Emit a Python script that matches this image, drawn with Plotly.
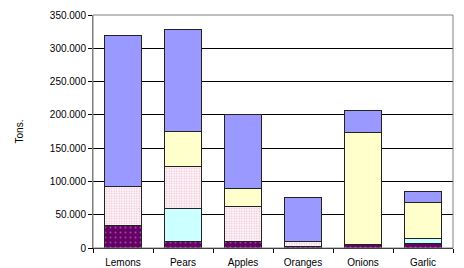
import plotly.graph_objects as go

categories = ["Lemons", "Pears", "Apples", "Oranges", "Onions", "Garlic"]
s_purple = [34000, 10000, 10000, 3000, 5000, 7000]
s_cyan = [0, 49000, 0, 0, 0, 7000]
s_pink = [59000, 64000, 53000, 7000, 0, 0]
s_yellow = [0, 52000, 26000, 0, 168000, 55000]
s_blue = [226000, 153000, 111000, 66000, 34000, 16000]
y_ticks = [0, 50000, 100000, 150000, 200000, 250000, 300000, 350000]

line = dict(color="#222222", width=1)
fig = go.Figure()
fig.add_bar(x=categories, y=s_purple, name="Series 1",
            marker=dict(color="#660066", line=line,
                        pattern=dict(shape=".", fgcolor="#c8a0c8", bgcolor="#660066", size=5, solidity=0.12)))
fig.add_bar(x=categories, y=s_cyan, name="Series 2",
            marker=dict(color="#CCFFFF", line=line))
fig.add_bar(x=categories, y=s_pink, name="Series 3",
            marker=dict(color="#FFFFFF", line=line,
                        pattern=dict(shape=".", fgcolor="#E090B0", bgcolor="#FFFFFF", size=2.5, solidity=0.45)))
fig.add_bar(x=categories, y=s_yellow, name="Series 4",
            marker=dict(color="#FFFFCC", line=line))
fig.add_bar(x=categories, y=s_blue, name="Series 5",
            marker=dict(color="#9999FF", line=line))

fig.update_layout(
    barmode="stack", bargap=0.37, width=456, height=260,
    margin=dict(l=85, r=11, t=7, b=20, autoexpand=False),
    paper_bgcolor="white", plot_bgcolor="white", showlegend=False,
    separators=",.",
    font=dict(family="Liberation Sans, Arial", size=10, color="black"),
    shapes=[dict(type="rect", xref="paper", yref="paper", x0=0, x1=1, y0=0, y1=1,
                 line=dict(color="#808080", width=1), layer="above")],
)
fig.update_xaxes(showline=True, linecolor="black", linewidth=1, ticks="outside",
                 tickson="boundaries", ticklen=4, tickcolor="black", showgrid=False,
                 tickfont=dict(size=10), automargin=False, ticklabelstandoff=5)
fig.update_yaxes(range=[0, 350000], tickvals=y_ticks, tickformat=",.0f",
                 showline=True, linecolor="#808080", ticks="outside", ticklen=4,
                 tickcolor="black", showgrid=True, gridcolor="black", gridwidth=1,
                 zeroline=False, tickfont=dict(size=10), automargin=False,
                 title=dict(text="Tons.", font=dict(size=10), standoff=24))
fig.write_html("out.html")
